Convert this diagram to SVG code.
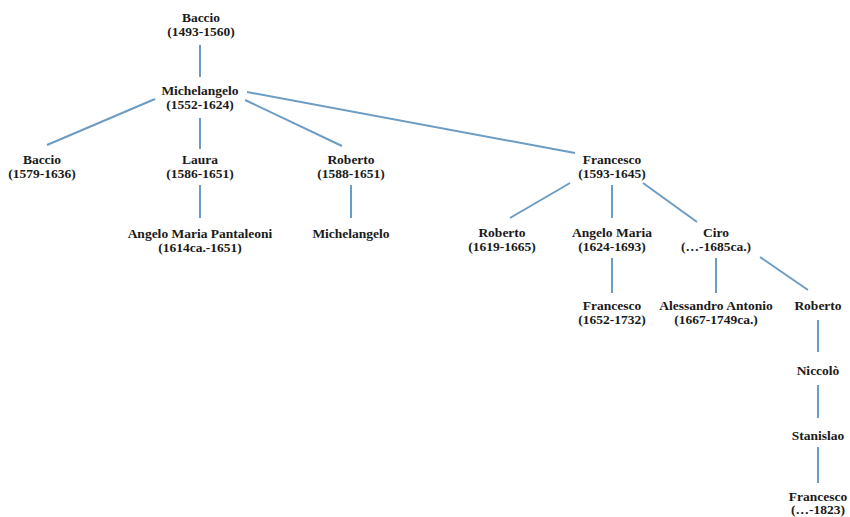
<svg xmlns="http://www.w3.org/2000/svg" width="850" height="517" viewBox="0 0 850 517">
<style>
text{font-family:"Liberation Serif","Times New Roman",serif;font-weight:bold;font-size:13.5px;fill:#1a1a1a;text-anchor:middle}
.c line{stroke:#6b9cc3;stroke-width:2;fill:none}
</style>
<rect width="850" height="517" fill="#fff"/>
<g class="c" id="connectors">
<line x1="200" y1="45" x2="200" y2="77"/>
<line x1="155" y1="99" x2="47" y2="145"/>
<line x1="200" y1="118" x2="200" y2="149"/>
<line x1="245" y1="100" x2="342" y2="146"/>
<line x1="247" y1="92" x2="575" y2="153"/>
<line x1="200" y1="185" x2="200" y2="218"/>
<line x1="351" y1="185" x2="351" y2="218"/>
<line x1="570" y1="183" x2="510" y2="218"/>
<line x1="612" y1="185" x2="612" y2="218"/>
<line x1="643" y1="183" x2="697" y2="222"/>
<line x1="612" y1="258" x2="612" y2="293"/>
<line x1="716" y1="258" x2="716" y2="293"/>
<line x1="760" y1="257" x2="808" y2="290"/>
<line x1="818" y1="320" x2="818" y2="352"/>
<line x1="818" y1="385" x2="818" y2="418"/>
<line x1="818" y1="447" x2="818" y2="483"/>
</g>
<g id="n1"><text x="201" y="21.5">Baccio<tspan x="201" dy="14">(1493-1560)</tspan></text></g>
<g id="n2"><text x="200" y="94.5">Michelangelo<tspan x="200" dy="14">(1552-1624)</tspan></text></g>
<g id="n3"><text x="42" y="163.5">Baccio<tspan x="42" dy="14">(1579-1636)</tspan></text></g>
<g id="n4"><text x="200" y="163.5">Laura<tspan x="200" dy="14">(1586-1651)</tspan></text></g>
<g id="n5"><text x="351" y="163.5">Roberto<tspan x="351" dy="14">(1588-1651)</tspan></text></g>
<g id="n6"><text x="612" y="163.5">Francesco<tspan x="612" dy="14">(1593-1645)</tspan></text></g>
<g id="n7"><text x="200" y="237.5">Angelo Maria Pantaleoni<tspan x="200" dy="14">(1614ca.-1651)</tspan></text></g>
<g id="n8"><text x="351" y="237.5">Michelangelo</text></g>
<g id="n9"><text x="502" y="236.5">Roberto<tspan x="502" dy="14">(1619-1665)</tspan></text></g>
<g id="n10"><text x="612" y="236.5">Angelo Maria<tspan x="612" dy="14">(1624-1693)</tspan></text></g>
<g id="n11"><text x="716" y="236.5">Ciro<tspan x="716" dy="14">(…-1685ca.)</tspan></text></g>
<g id="n12"><text x="612" y="309.5">Francesco<tspan x="612" dy="14">(1652-1732)</tspan></text></g>
<g id="n13"><text x="716" y="309.5">Alessandro Antonio<tspan x="716" dy="14">(1667-1749ca.)</tspan></text></g>
<g id="n14"><text x="818" y="309.5">Roberto</text></g>
<g id="n15"><text x="818" y="374.5">Niccolò</text></g>
<g id="n16"><text x="818" y="439.5">Stanislao</text></g>
<g id="n17"><text x="818" y="500.5">Francesco<tspan x="818" dy="13.5">(…-1823)</tspan></text></g>
</svg>
